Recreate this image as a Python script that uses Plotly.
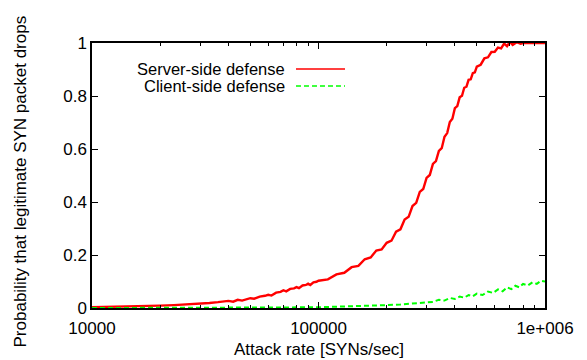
import plotly.graph_objects as go

server_x = [10000, 12000, 14000, 16000, 18000, 20000, 23000, 26000, 30000, 33000, 36000,
            40000, 42000, 44000, 46000, 48000, 50000, 52000, 55000, 58000, 60000, 62000,
            65000, 68000, 70000, 72000, 75000, 78000, 80000, 82000, 85000, 88000, 90000,
            92000, 95000, 98000, 100000, 110000, 120000, 130000, 140000, 150000, 160000,
            170000, 180000, 190000, 200000, 210000, 220000, 230000, 240000, 250000, 260000,
            270000, 280000, 290000, 300000, 310000, 320000, 330000, 340000, 350000, 360000,
            370000, 380000, 390000, 400000, 410000, 420000, 430000, 440000, 450000, 460000,
            470000, 480000, 490000, 500000, 520000, 540000, 560000, 580000, 600000, 620000,
            640000, 660000, 680000, 700000, 720000, 750000, 780000, 800000, 850000, 900000,
            1000000]
server_y = [0.003, 0.004, 0.005, 0.006, 0.008, 0.009, 0.011, 0.013, 0.016, 0.019, 0.022,
            0.027, 0.024, 0.031, 0.028, 0.034, 0.037, 0.035, 0.043, 0.046, 0.050, 0.047,
            0.058, 0.061, 0.067, 0.063, 0.072, 0.074, 0.079, 0.075, 0.085, 0.087, 0.092,
            0.087, 0.097, 0.099, 0.103, 0.108, 0.127, 0.133, 0.154, 0.159, 0.184,
            0.191, 0.217, 0.221, 0.246, 0.254, 0.288, 0.297, 0.334, 0.344, 0.385,
            0.397, 0.438, 0.449, 0.491, 0.502, 0.544, 0.554, 0.593, 0.603, 0.646,
            0.660, 0.702, 0.714, 0.754, 0.762, 0.795, 0.801, 0.831, 0.835, 0.861,
            0.863, 0.886, 0.889, 0.911, 0.918, 0.942, 0.946, 0.966, 0.967, 0.983,
            0.980, 0.998, 0.988, 1.004, 0.993, 1.003, 0.997, 1.0, 1.001, 1.0,
            1.0]

client_x = [10000, 30000, 50000, 70000, 100000, 130000, 160000, 200000, 230000, 260000,
            280000, 300000, 320000, 340000, 360000, 380000, 400000, 420000, 440000, 460000,
            480000, 500000, 530000, 560000, 590000, 620000, 650000, 680000, 710000, 740000,
            770000, 800000, 840000, 880000, 920000, 960000, 1000000]
client_y = [0.0, 0.0, 0.001, 0.002, 0.003, 0.005, 0.007, 0.011, 0.013, 0.016,
            0.019, 0.022, 0.023, 0.031, 0.028, 0.038, 0.034, 0.043, 0.039, 0.049,
            0.044, 0.054, 0.049, 0.062, 0.057, 0.070, 0.063, 0.078, 0.071, 0.084,
            0.078, 0.091, 0.085, 0.097, 0.091, 0.103, 0.100]

series_names = ["Server-side defense", "Client-side defense"]
colors = ["#ff0000", "#00ff00"]

x_tickvals = [1e4, 1e5, 1e6]
x_ticktext = ["10000", "100000", "1e+006"]
x_minor = [m * d for d in (1e4, 1e5) for m in range(2, 10)]
y_tickvals = [0, 0.2, 0.4, 0.6, 0.8, 1]
y_ticktext = ["0", "0.2", "0.4", "0.6", "0.8", "1"]

x_title = "Attack rate [SYNs/sec]"
y_title = "Probability that legitimate SYN packet drops"

font = "Liberation Sans, Arial, sans-serif"

fig = go.Figure()
fig.add_trace(go.Scatter(x=server_x, y=server_y, mode="lines", name=series_names[0],
                         line=dict(color=colors[0], width=2.4), showlegend=False))
fig.add_trace(go.Scatter(x=client_x, y=client_y, mode="lines", name=series_names[1],
                         line=dict(color=colors[1], width=2, dash="5px,3px"), showlegend=False))

# gnuplot-style legend: right-aligned text with sample line on the right
rows_y = [0.902, 0.838]
dashes = ["solid", "5px,3px"]
for name, col, ry, ds in zip(series_names, colors, rows_y, dashes):
    fig.add_annotation(xref="paper", yref="paper", x=0.43, y=ry, text=name,
                       showarrow=False, xanchor="right", yanchor="middle",
                       font=dict(family=font, size=16.5, color="black"))
    fig.add_shape(type="line", xref="paper", yref="paper", x0=0.4503, x1=0.5585,
                  y0=ry, y1=ry, line=dict(color=col, width=1.6, dash=ds))

# axis titles placed like gnuplot
fig.add_annotation(xref="paper", yref="paper", x=0.5, y=-0.155, text=x_title,
                   showarrow=False, xanchor="center", yanchor="middle",
                   font=dict(family=font, size=17, color="black"))
fig.add_annotation(xref="paper", yref="paper", x=-0.157, y=0.477, text=y_title,
                   showarrow=False, xanchor="center", yanchor="middle", textangle=-90,
                   font=dict(family=font, size=17, color="black"))

axis_common = dict(showline=True, linecolor="black", linewidth=1.5, mirror="ticks",
                   ticks="inside", ticklen=6, tickcolor="black", tickwidth=1,
                   showgrid=False, zeroline=False,
                   tickfont=dict(family=font, size=17, color="black"))

fig.update_xaxes(type="log", range=[4, 6], tickmode="array", tickvals=x_tickvals,
                 ticktext=x_ticktext, ticklabelstandoff=4,
                 minor=dict(tickmode="array", tickvals=x_minor, ticks="inside", ticklen=3,
                            tickcolor="black", showgrid=False),
                 **axis_common)
fig.update_yaxes(range=[0, 1], tickmode="array", tickvals=y_tickvals, ticktext=y_ticktext,
                 **axis_common)

fig.update_layout(width=587, height=360, margin=dict(l=92, r=42, t=43, b=52),
                  paper_bgcolor="white", plot_bgcolor="white",
                  font=dict(family=font, size=17, color="black"))

fig.write_html("out.html")
